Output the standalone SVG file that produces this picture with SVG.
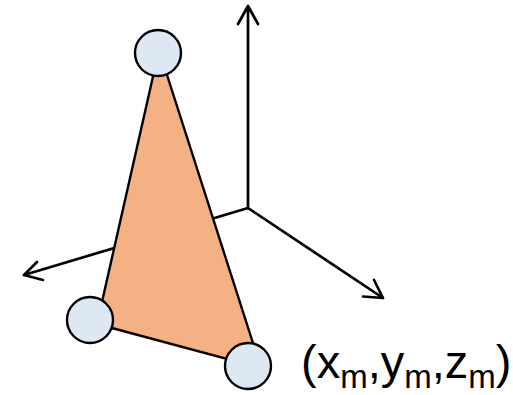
<svg xmlns="http://www.w3.org/2000/svg" width="513" height="395" viewBox="0 0 513 395">
<style>
.c{fill:none;stroke:#000;stroke-width:2.7;stroke-linecap:round;stroke-linejoin:round}
.n{fill:#dee8f4;stroke:#000;stroke-width:2.4}
.t{font-family:"Liberation Sans",Arial,sans-serif;font-size:47px;fill:#000}
.s{font-size:33px}
</style>
<rect width="513" height="395" fill="#fff"/>
<g id="connectors">
<path class="c" d="M248 208V6M238 24L248 6L258 24"/>
<path class="c" d="M248 208L24 275M37 262L24 275L43 280"/>
<path class="c" d="M248 208L383 298M363 296.500L383 298L374 280"/>
</g>
<path id="triangle" d="M159 50L97 324L261 368Z" fill="#f4b183" stroke="#000" stroke-width="2.400" stroke-linejoin="round"/>
<g id="node-top"><circle class="n" cx="158" cy="53" r="23"/></g>
<g id="node-left"><circle class="n" cx="90" cy="320" r="23"/></g>
<g id="node-right"><circle class="n" cx="248" cy="366" r="23"/></g>
<text id="label" class="t" x="301" y="378">(x<tspan class="s" dy="10">m</tspan><tspan dy="-10">,y</tspan><tspan class="s" dy="10">m</tspan><tspan dy="-10">,z</tspan><tspan class="s" dy="10">m</tspan><tspan dy="-10">)</tspan></text>
</svg>
